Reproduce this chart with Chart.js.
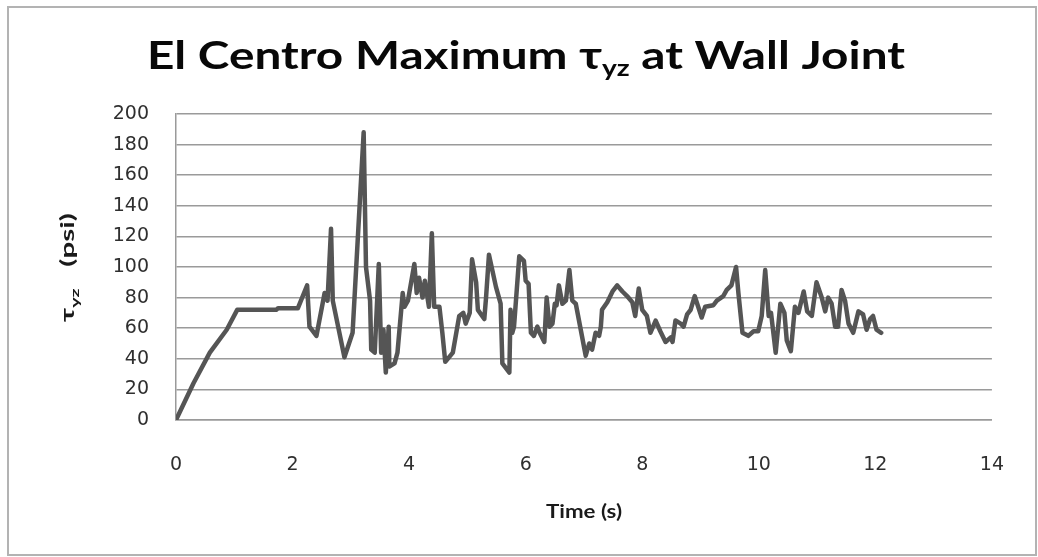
<!DOCTYPE html>
<html>
<head>
<meta charset="utf-8">
<title>El Centro Maximum τyz at Wall Joint</title>
<script src="https://cdn.jsdelivr.net/npm/chart.js@4/dist/chart.umd.min.js"></script>
<style>
  html, body { margin: 0; padding: 0; background: #fff; }
  #chart { display: block; }
</style>
</head>
<body>
<canvas id="chart" width="1038" height="557"></canvas>
<script>
// Time history of max shear stress at the wall joint (El Centro record)
const timeValues = [
    0, 0.30, 0.58, 0.87, 1.05, 1.72, 1.75, 2.09, 2.25, 2.29,
    2.41, 2.55, 2.60, 2.66, 2.69, 2.89, 3.03, 3.22, 3.26, 3.33,
    3.35, 3.41, 3.48, 3.52, 3.56, 3.60, 3.65, 3.66, 3.75, 3.80,
    3.89, 3.92, 3.98, 4.09, 4.13, 4.17, 4.23, 4.27, 4.34, 4.39,
    4.43, 4.52, 4.57, 4.62, 4.75, 4.86, 4.93, 4.97, 5.04, 5.08,
    5.15, 5.18, 5.29, 5.32, 5.37, 5.49, 5.57, 5.60, 5.72, 5.74,
    5.77, 5.80, 5.89, 5.97, 6.00, 6.05, 6.09, 6.14, 6.20, 6.24,
    6.32, 6.36, 6.41, 6.46, 6.50, 6.53, 6.57, 6.63, 6.69, 6.75,
    6.80, 6.86, 7.03, 7.09, 7.14, 7.20, 7.26, 7.29, 7.31, 7.40,
    7.49, 7.57, 7.66, 7.74, 7.83, 7.88, 7.94, 8.00, 8.08, 8.14,
    8.23, 8.31, 8.40, 8.49, 8.52, 8.57, 8.66, 8.71, 8.77, 8.83,
    8.90, 8.96, 9.02, 9.08, 9.22, 9.28, 9.39, 9.45, 9.53, 9.61,
    9.65, 9.72, 9.82, 9.91, 9.99, 10.05, 10.11, 10.17, 10.21, 10.29,
    10.37, 10.44, 10.48, 10.55, 10.62, 10.68, 10.77, 10.83, 10.91, 10.99,
    11.08, 11.14, 11.19, 11.25, 11.31, 11.36, 11.42, 11.48, 11.54, 11.62,
    11.71, 11.79, 11.85, 11.91, 11.96, 12.02, 12.10
];
const stressValues = [
    0, 24, 44, 59, 72, 72, 73, 73, 88, 61,
    55, 83, 78, 125, 78, 41, 57, 188, 100, 78,
    46, 44, 102, 44, 59, 31, 61, 35, 37, 44,
    83, 74, 78, 102, 83, 93, 80, 91, 74, 122,
    74, 74, 57, 38, 44, 68, 70, 63, 70, 105,
    90, 72, 66, 80, 108, 87, 76, 37, 31, 72,
    57, 61, 107, 104, 91, 89, 57, 55, 61, 57,
    51, 80, 61, 63, 76, 75, 88, 76, 78, 98,
    78, 76, 42, 50, 46, 57, 55, 61, 72, 77,
    84, 88, 84, 81, 77, 68, 86, 72, 68, 57,
    65, 58, 51, 54, 51, 65, 63, 61, 69, 72,
    81, 74, 67, 74, 75, 78, 81, 85, 88, 100,
    83, 57, 55, 58, 58, 68, 98, 68, 70, 44,
    76, 70, 52, 45, 74, 70, 84, 71, 68, 90,
    80, 71, 80, 76, 61, 61, 85, 78, 63, 57,
    71, 69, 59, 66, 68, 59, 57
];

const xMin = 0, xMax = 14, xStep = 2;
const yMin = 0, yMax = 200, yStep = 20;

const titleParts = [
    { text: "El Centro Maximum τ" },
    { text: "yz", sub: true },
    { text: " at Wall Joint" }
];
const yTitleParts = [
    { text: "τ" },
    { text: "yz", sub: true },
    { text: "   (psi)" }
];
const xTitleParts = [{ text: "Time (s)" }];

const points = timeValues.map((t, i) => ({ x: t, y: stressValues[i] }));

const GRID = "#9a9a9a";
const LABEL = "#2f2f2f";

// draws a run of text (with subscripts) squeezed/stretched to a given length
function drawParts(ctx, parts, opts) {
    const mainFont = "bold " + opts.size + "px Lato, 'Open Sans', 'DejaVu Sans', sans-serif";
    const subFont = "bold " + opts.subSize + "px Lato, 'Open Sans', 'DejaVu Sans', sans-serif";
    let natural = 0;
    parts.forEach(p => {
        ctx.font = p.sub ? subFont : mainFont;
        p.w = ctx.measureText(p.text).width;
        natural += p.w;
    });
    const sx = opts.length / natural;
    ctx.save();
    ctx.translate(opts.x, opts.y);
    if (opts.rotate) ctx.rotate(opts.rotate);
    ctx.scale(sx, opts.sy || 1);
    ctx.fillStyle = opts.color;
    ctx.textBaseline = "alphabetic";
    ctx.textAlign = "left";
    let cx = 0;
    parts.forEach(p => {
        ctx.font = p.sub ? subFont : mainFont;
        ctx.fillText(p.text, cx, p.sub ? opts.subShift : 0);
        cx += p.w;
    });
    ctx.restore();
}

const decorations = {
    id: "decorations",
    beforeDraw(chart) {
        const ctx = chart.ctx;
        ctx.save();
        ctx.fillStyle = "#ffffff";
        ctx.fillRect(0, 0, chart.width, chart.height);
        ctx.restore();
    },
    afterDraw(chart) {
        const ctx = chart.ctx;
        // outer frame
        ctx.save();
        ctx.strokeStyle = "#b3b3b3";
        ctx.lineWidth = 2;
        ctx.strokeRect(8, 7, 1028, 548);
        ctx.restore();

        drawParts(ctx, titleParts, {
            x: 147, y: 69, length: 758, size: 39, subSize: 23, subShift: 7, color: "#080808"
        });
        drawParts(ctx, yTitleParts, {
            x: 74, y: 322, length: 109, size: 18, subSize: 12, subShift: 5,
            rotate: -Math.PI / 2, color: "#1a1a1a"
        });
        drawParts(ctx, xTitleParts, {
            x: 546, y: 518, length: 76, size: 18, subSize: 12, subShift: 4, color: "#1a1a1a"
        });
    }
};

new Chart(document.getElementById("chart"), {
    type: "line",
    data: {
        datasets: [{
            label: "τyz",
            data: points,
            borderColor: "#555555",
            borderWidth: 4.5,
            borderJoinStyle: "round",
            borderCapStyle: "round",
            pointRadius: 0,
            tension: 0,
            fill: false
        }]
    },
    options: {
        responsive: false,
        animation: false,
        parsing: false,
        layout: { padding: { top: 114, right: 38, left: 0, bottom: 0 } },
        plugins: {
            legend: { display: false },
            title: { display: false },
            tooltip: { enabled: false }
        },
        scales: {
            x: {
                type: "linear",
                min: xMin,
                max: xMax,
                grid: { display: false, drawTicks: false },
                border: { display: true, color: GRID, width: 1.5 },
                ticks: {
                    stepSize: xStep,
                    padding: 34,
                    color: LABEL,
                    font: { family: "'DejaVu Sans'", size: 19 },
                    maxRotation: 0
                },
                afterFit(scale) { scale.height = 137; }
            },
            y: {
                min: yMin,
                max: yMax,
                grid: { color: GRID, lineWidth: 1.5, drawTicks: false },
                border: { display: true, color: GRID, width: 1.5 },
                ticks: {
                    stepSize: yStep,
                    padding: 27,
                    color: LABEL,
                    font: { family: "'DejaVu Sans'", size: 19 }
                },
                afterFit(scale) { scale.width = 176; }
            }
        }
    },
    plugins: [decorations]
});
</script>
</body>
</html>
